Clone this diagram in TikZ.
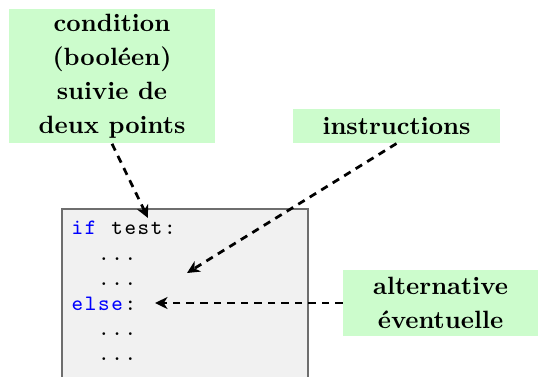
\documentclass[tikz,border=0pt]{standalone}
\usepackage{fontspec}
\usetikzlibrary{arrows.meta}

\definecolor{notegreen}{HTML}{CCFCCC}
\definecolor{codebg}{HTML}{F1F1F1}
\definecolor{codeframe}{HTML}{6E6E6E}

% fixed-pitch typesetting of code: every character gets a cell of the same width
\newcommand\monospaced[1]{\monoaux#1\relax}
\def\monoaux#1{\ifx\relax#1\else\makebox[5.28pt]{#1}\expandafter\monoaux\fi}

\tikzset{
  note/.style={fill=notegreen, inner sep=0pt, align=center,
    font=\fontsize{10}{13.6}\selectfont\bfseries},
  codeline/.style={anchor=base west, inner sep=0pt,
    font=\fontsize{8.8}{10}\selectfont\ttfamily},
  pointer/.style={line width=1.1pt, dash pattern=on 3pt off 2.4pt,
    -{Stealth[length=5pt,width=4.8pt,inset=1.5pt]}},
}

\begin{document}
\begin{tikzpicture}[x=0.4pt, y=-0.4pt]
  \useasboundingbox (0,0) rectangle (539,376);

  % code block (its lower edge lies below the picture)
  \draw[fill=codebg, draw=codeframe, line width=0.7pt]
    (62,390) -- (62,209) -- (308,209) -- (308,390);

  \node[codeline] (l1) at (70.4,234) {{\color{blue}\monospaced{if}}\monospaced{~test:}};
  \node[codeline] (l2) at (70.4,260) {\monospaced{~~...}};
  \node[codeline] (l3) at (70.4,285) {\monospaced{~~...}};
  \node[codeline] (l4) at (70.4,310) {{\color{blue}\monospaced{else}}\monospaced{:}};
  \node[codeline] (l5) at (70.4,335) {\monospaced{~~...}};
  \node[codeline] (l6) at (70.4,360) {\monospaced{~~...}};

  % annotations
  \node[note, minimum width=82.4pt, minimum height=53.8pt] (cond) at (112,76)
    {condition\\(booléen)\\suivie de\\deux points};
  \node[note, minimum width=82.8pt, minimum height=13.6pt] (instr) at (396.5,126)
    {instructions};
  \node[note, minimum width=78pt, minimum height=26.4pt] (alt) at (440.5,303)
    {alternative\\éventuelle};

  % arrow targets inside the code block
  \coordinate (condTarget) at (148,218);
  \coordinate (instrTarget) at (187,273);
  \coordinate (altTarget) at (155,303);

  \draw[pointer] (cond.south) -- (condTarget);
  \draw[pointer] (instr.south) -- (instrTarget);
  \draw[pointer] (alt.west) -- (altTarget);
\end{tikzpicture}
\end{document}
